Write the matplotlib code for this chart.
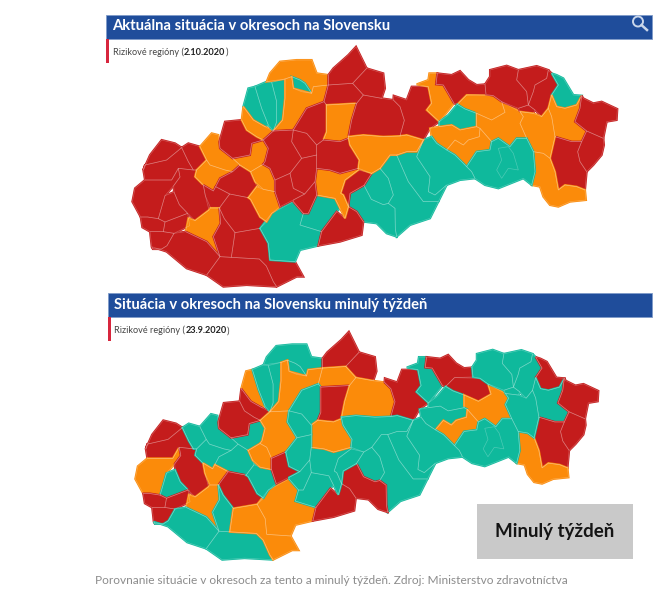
"""Two choropleth maps of Slovak districts, risk colours for 2.10.2020 and 23.9.2020."""

import matplotlib
matplotlib.use("Agg")
import matplotlib.pyplot as plt
from matplotlib.patches import Circle, Polygon, Rectangle
from matplotlib.transforms import Affine2D

plt.rcParams["font.family"] = ["Lato", "DejaVu Sans"]

RED = "#c41c1c"
ORANGE = "#fb8b0a"
TEAL = "#0fb99c"
BLUE = "#1f4d9b"

TITLE_NOW = "Aktuálna situácia v okresoch na Slovensku"
TITLE_LAST = "Situácia v okresoch na Slovensku minulý týždeň"
DATE_NOW = "2.10.2020"
DATE_LAST = "23.9.2020"
SUBTITLE = "Rizikové regióny"
BOX_LABEL = "Minulý týždeň"
CAPTION = "Porovnanie situácie v okresoch za tento a minulý týždeň. Zdroj: Ministerstvo zdravotníctva"

# district outlines (3x pixel units)
DISTRICT_SHAPES = [
    [(130, 495), (150, 450), (185, 405), (225, 415), (245, 428), (200, 465), (135, 480)],
    [(135, 525), (130, 495), (135, 480), (200, 465), (245, 428), (265, 470), (280, 495), (235, 490), (215, 525)],
    [(97, 590), (105, 550), (135, 525), (215, 525), (235, 490), (240, 516), (221, 542), (195, 572), (175, 641), (143, 636), (122, 636)],
    [(240, 516), (235, 490), (280, 495), (290, 495), (285, 515), (310, 540), (316, 572), (327, 615), (285, 647), (263, 625), (238, 599), (222, 561), (221, 542)],
    [(175, 641), (195, 572), (222, 561), (238, 599), (263, 625), (237, 635), (195, 651)],
    [(122, 636), (143, 636), (175, 641), (195, 651), (190, 680), (150, 680), (127, 667)],
    [(195, 651), (237, 635), (263, 625), (269, 662), (222, 685), (190, 680)],
    [(150, 680), (190, 680), (222, 685), (201, 722), (185, 732), (159, 732), (155, 725)],
    [(245, 428), (265, 415), (300, 425), (320, 465), (290, 495), (280, 495), (265, 470)],
    [(300, 425), (335, 385), (355, 390), (360, 430), (398, 460), (420, 480), (398, 500), (375, 495), (330, 480), (320, 465)],
    [(285, 515), (290, 495), (320, 465), (330, 480), (375, 495), (398, 500), (360, 520), (340, 558), (310, 540)],
    [(347, 545), (360, 520), (398, 500), (420, 480), (452, 500), (465, 530), (470, 545), (445, 578), (389, 567)],
    [(316, 572), (310, 540), (340, 558), (347, 545), (389, 567), (358, 609), (332, 609)],
    [(358, 609), (389, 567), (445, 578), (452, 583), (480, 636), (500, 650), (480, 670), (405, 683), (373, 641)],
    [(257, 680), (265, 640), (285, 647), (327, 615), (332, 609), (358, 609), (362, 655), (340, 695), (360, 755), (320, 710)],
    [(200, 740), (155, 725), (159, 732), (185, 732), (201, 722), (222, 685), (257, 680), (320, 710), (360, 755), (320, 810), (260, 790)],
    [(320, 810), (360, 755), (394, 757), (478, 762), (499, 783), (520, 830), (530, 845), (440, 840), (370, 845)],
    [(340, 695), (362, 655), (358, 609), (373, 641), (405, 683), (394, 757), (360, 755)],
    [(394, 757), (405, 683), (480, 670), (505, 715), (510, 765), (585, 770), (610, 815), (590, 815), (530, 845), (520, 830), (499, 783), (478, 762)],
    [(480, 670), (515, 625), (580, 590), (610, 625), (600, 660), (665, 680), (655, 722), (600, 735), (585, 770), (510, 765), (505, 715)],
    [(610, 625), (625, 625), (650, 570), (705, 580), (720, 610), (710, 620), (665, 680), (600, 660)],
    [(445, 578), (470, 545), (490, 553), (525, 560), (540, 605), (515, 625), (500, 650), (480, 636), (452, 583)],
    [(398, 460), (450, 450), (455, 415), (490, 405), (505, 430), (495, 470), (489, 478), (452, 500), (420, 480)],
    [(452, 500), (489, 478), (510, 490), (525, 525), (525, 560), (490, 553), (465, 530)],
    [(358, 410), (375, 350), (425, 345), (440, 375), (470, 395), (490, 405), (455, 415), (450, 450), (398, 460), (360, 430)],
    [(430, 305), (445, 250), (465, 245), (485, 310), (505, 360), (495, 365), (460, 345)],
    [(425, 345), (430, 305), (460, 345), (495, 365), (520, 378), (490, 405), (470, 395), (440, 375)],
    [(465, 245), (500, 230), (515, 232), (530, 290), (530, 350), (520, 378), (505, 360), (485, 310)],
    [(515, 232), (555, 222), (555, 280), (548, 345), (520, 378), (530, 350), (530, 290)],
    [(500, 230), (510, 205), (540, 170), (590, 165), (635, 165), (650, 205), (685, 210), (685, 240), (640, 245), (635, 265), (615, 235), (600, 225), (575, 215), (555, 222)],
    [(575, 215), (600, 225), (615, 235), (635, 265), (605, 260), (580, 250)],
    [(555, 222), (575, 215), (580, 250), (635, 265), (640, 245), (685, 240), (672, 290), (620, 310), (580, 375), (520, 378), (548, 345), (555, 280)],
    [(685, 210), (700, 190), (745, 150), (768, 125), (800, 190), (758, 235), (685, 240)],
    [(800, 190), (850, 205), (855, 250), (845, 280), (790, 270), (758, 235)],
    [(685, 240), (758, 235), (790, 270), (770, 295), (680, 300), (672, 290)],
    [(580, 375), (620, 310), (672, 290), (680, 300), (680, 380), (670, 405), (650, 420), (620, 385)],
    [(680, 300), (770, 295), (755, 345), (745, 400), (720, 410), (670, 405), (680, 380)],
    [(745, 395), (755, 345), (770, 295), (790, 270), (845, 280), (880, 285), (900, 305), (913, 346), (900, 393), (850, 395), (790, 390)],
    [(880, 285), (881, 272), (920, 285), (935, 245), (985, 245), (995, 295), (980, 315), (1018, 350), (990, 370), (970, 405), (920, 390), (900, 393), (913, 346), (900, 305)],
    [(950, 238), (985, 225), (988, 205), (1012, 205), (1008, 238), (1030, 240), (1062, 295), (1018, 350), (980, 315), (995, 295), (985, 245)],
    [(1012, 205), (1055, 210), (1080, 198), (1105, 225), (1130, 240), (1155, 238), (1158, 268), (1100, 270), (1072, 298), (1062, 295), (1030, 240), (1008, 238)],
    [(1072, 298), (1100, 270), (1180, 272), (1205, 290), (1215, 322), (1175, 345), (1130, 325), (1095, 312)],
    [(1018, 350), (1045, 330), (1072, 298), (1095, 312), (1130, 325), (1130, 365), (1080, 375), (1055, 360), (1018, 365)],
    [(1130, 325), (1175, 345), (1215, 322), (1205, 290), (1260, 320), (1270, 335), (1260, 355), (1280, 400), (1250, 400), (1230, 425), (1195, 400), (1175, 410), (1140, 370), (1130, 365)],
    [(1155, 238), (1170, 215), (1170, 195), (1220, 182), (1255, 195), (1250, 225), (1280, 260), (1285, 300), (1255, 310), (1205, 290), (1180, 272), (1158, 268)],
    [(1255, 195), (1310, 183), (1345, 195), (1340, 220), (1305, 240), (1300, 260), (1285, 300), (1280, 260), (1250, 225)],
    [(1340, 220), (1345, 195), (1355, 205), (1375, 240), (1355, 270), (1345, 310), (1325, 335), (1305, 315), (1285, 300), (1300, 260), (1305, 240)],
    [(1255, 310), (1285, 300), (1305, 315), (1300, 325), (1260, 320)],
    [(1355, 205), (1370, 210), (1390, 220), (1405, 245), (1420, 270), (1445, 272), (1430, 300), (1395, 310), (1370, 305), (1355, 270), (1375, 240)],
    [(1355, 270), (1370, 305), (1395, 310), (1430, 300), (1445, 272), (1440, 310), (1425, 350), (1460, 378), (1445, 410), (1415, 410), (1365, 395), (1355, 335), (1345, 310)],
    [(1445, 272), (1450, 280), (1480, 295), (1505, 290), (1552, 312), (1550, 345), (1520, 350), (1510, 400), (1460, 378), (1425, 350), (1440, 310)],
    [(1460, 378), (1510, 400), (1512, 420), (1505, 450), (1480, 480), (1460, 500), (1440, 470), (1433, 440), (1445, 410)],
    [(1365, 395), (1415, 410), (1445, 410), (1433, 440), (1440, 470), (1460, 500), (1455, 555), (1430, 545), (1395, 540), (1375, 555), (1365, 500), (1350, 460)],
    [(1300, 440), (1330, 445), (1350, 460), (1365, 500), (1375, 555), (1395, 540), (1430, 545), (1455, 555), (1458, 585), (1410, 590), (1375, 605), (1350, 600), (1330, 575), (1320, 545), (1295, 540), (1305, 500)],
    [(1260, 355), (1270, 335), (1260, 320), (1300, 325), (1325, 335), (1345, 310), (1355, 335), (1365, 395), (1350, 460), (1330, 445), (1300, 440), (1280, 400)],
    [(990, 370), (1018, 365), (1055, 360), (1080, 375), (1130, 365), (1140, 370), (1138, 395), (1105, 405), (1090, 420), (1065, 405), (1040, 435), (1010, 415), (995, 395)],
    [(1040, 435), (1065, 405), (1090, 420), (1105, 405), (1138, 395), (1140, 370), (1175, 410), (1170, 435), (1130, 440), (1100, 485), (1065, 450)],
    [(1100, 485), (1130, 440), (1170, 435), (1175, 410), (1195, 400), (1230, 425), (1250, 400), (1280, 400), (1300, 440), (1305, 500), (1295, 540), (1270, 520), (1245, 530), (1195, 550), (1155, 540), (1125, 520), (1115, 500)],
    [(1195, 430), (1225, 425), (1240, 445), (1255, 495), (1225, 490), (1205, 520), (1190, 495), (1205, 465)],
    [(995, 395), (1010, 415), (1040, 435), (1065, 450), (1100, 485), (1115, 500), (1125, 520), (1080, 525), (1040, 540), (1005, 570), (985, 560), (990, 515), (950, 455), (970, 405)],
    [(890, 450), (920, 440), (950, 440), (970, 405), (950, 455), (990, 515), (985, 560), (1005, 570), (1040, 540), (1015, 590), (970, 590), (925, 530)],
    [(840, 490), (870, 450), (890, 450), (925, 530), (970, 590), (1015, 590), (990, 640), (930, 660), (890, 695), (886, 672), (885, 610), (865, 595), (880, 570), (865, 520)],
    [(792, 541), (815, 505), (840, 490), (865, 520), (880, 570), (865, 595), (850, 599), (814, 583)],
    [(750, 565), (792, 541), (814, 583), (850, 599), (865, 595), (885, 610), (886, 672), (890, 695), (860, 685), (830, 655), (790, 650), (770, 620), (745, 605)],
    [(665, 680), (710, 620), (735, 640), (745, 605), (770, 620), (790, 650), (785, 690), (720, 710), (655, 722)],
    [(722, 565), (735, 525), (775, 495), (815, 505), (792, 541), (750, 565), (745, 605), (730, 570)],
    [(650, 490), (690, 495), (720, 505), (775, 490), (775, 495), (735, 525), (722, 565), (730, 570), (745, 605), (735, 640), (720, 610), (705, 580), (650, 570), (645, 530)],
    [(650, 420), (670, 405), (720, 410), (745, 400), (750, 420), (778, 465), (775, 490), (720, 505), (690, 495), (650, 490), (650, 450)],
    [(745, 395), (790, 390), (850, 395), (900, 393), (920, 390), (970, 405), (950, 440), (920, 440), (890, 450), (870, 450), (840, 490), (815, 505), (775, 490), (778, 465), (750, 420)],
    [(490, 405), (520, 378), (580, 375), (575, 410), (605, 460), (570, 505), (525, 525), (510, 490), (489, 478), (495, 470), (505, 430)],
    [(580, 375), (620, 385), (650, 420), (650, 450), (605, 460), (575, 410)],
    [(525, 525), (570, 505), (580, 550), (614, 567), (580, 585), (540, 605), (525, 560)],
    [(570, 505), (605, 460), (650, 450), (650, 490), (645, 530), (614, 567), (580, 550)],
    [(580, 585), (614, 567), (645, 530), (650, 570), (625, 625), (610, 625), (580, 590)],
]

# one colour per district, same order as the shapes
COLORS_NOW = [
    "R", "R", "R", "R", "R", "R", "R", "R", "R", "O",
    "O", "R", "R", "R", "O", "R", "R", "R", "R", "T",
    "T", "O", "O", "O", "R", "T", "O", "T", "T", "O",
    "T", "O", "R", "R", "R", "R", "O", "R", "R", "O",
    "R", "O", "T", "O", "R", "R", "R", "R", "T", "O",
    "R", "R", "R", "O", "O", "O", "O", "T", "T", "T",
    "T", "T", "T", "T", "R", "R", "O", "R", "O", "R",
    "R", "R", "R", "R",
]
COLORS_LAST = [
    "R", "R", "O", "R", "T", "R", "R", "R", "T", "T",
    "T", "T", "O", "R", "O", "T", "T", "T", "O", "O",
    "T", "T", "T", "O", "R", "O", "R", "T", "T", "T",
    "T", "O", "R", "R", "O", "T", "R", "O", "R", "T",
    "R", "R", "T", "O", "T", "T", "T", "T", "R", "T",
    "R", "R", "R", "O", "T", "T", "O", "T", "T", "T",
    "T", "T", "T", "R", "R", "T", "T", "O", "T", "O",
    "T", "R", "T", "T",
]

MAP_NOW_SCALE = (1 / 3, 1 / 3)
MAP_NOW_OFFSET = (100, 5)
MAP_LAST_SCALE = (0.3183, 0.3167)
MAP_LAST_OFFSET = (104.4, 292.1)


def draw_map(ax, codes, scale, offset):
    palette = {"R": RED, "O": ORANGE, "T": TEAL}
    tf = Affine2D().scale(*scale).translate(*offset) + ax.transData
    for shape, code in zip(DISTRICT_SHAPES, codes):
        # own-colour edge closes the small gaps between traced shapes
        ax.add_patch(Polygon(shape, closed=True, fc=palette[code], ec=palette[code], lw=1.5, transform=tf, zorder=2))
    for shape in DISTRICT_SHAPES:
        ax.add_patch(Polygon(shape, closed=True, fc="none", ec=(1, 1, 1, 0.25), lw=0.5, transform=tf, zorder=3))


def draw_header(ax, title, date, x0, y0):
    ax.add_patch(Rectangle((x0, y0), 652 - x0, 24, fc=BLUE, ec="#7f9bc9", lw=0.6, zorder=4))
    ax.add_patch(Rectangle((x0, y0 + 24), 3, 24, fc="#d7263d", ec="none", zorder=4))
    ax.text(x0 + 6, y0 + 11.5, title, color="white", fontsize=10.6, fontweight="bold", va="center", ha="left", zorder=5)
    sub = ax.text(x0 + 7, y0 + 37.5, SUBTITLE + " (", color="#444444", fontsize=6.6, va="center", ha="left", zorder=5)
    bold = ax.annotate(date, xy=(1, 0), xycoords=sub, color="#222222", fontsize=6.6, fontweight="bold", va="bottom", ha="left", zorder=5)
    ax.annotate(")", xy=(1, 0), xycoords=bold, color="#444444", fontsize=6.6, va="bottom", ha="left", zorder=5)


fig = plt.figure(figsize=(6.61, 6.0), dpi=100)
ax = fig.add_axes([0, 0, 1, 1])
ax.set_xlim(0, 661)
ax.set_ylim(600, 0)
ax.axis("off")

draw_header(ax, TITLE_NOW, DATE_NOW, 106, 14.5)
draw_header(ax, TITLE_LAST, DATE_LAST, 107.5, 293)

draw_map(ax, COLORS_NOW, MAP_NOW_SCALE, MAP_NOW_OFFSET)
draw_map(ax, COLORS_LAST, MAP_LAST_SCALE, MAP_LAST_OFFSET)

# search icon
ax.add_patch(Circle((638, 21.5), 5, fc="none", ec="#c9d6ea", lw=1.4, zorder=6))
ax.plot([641.5, 647], [25, 30], color="#c9d6ea", lw=1.8, zorder=6)

ax.add_patch(Rectangle((477, 504), 156, 55, fc="#c9c9c9", ec="none", zorder=4))
ax.text(555, 532, BOX_LABEL, color="#141414", fontsize=13.5, fontweight="bold", ha="center", va="center", zorder=5)

ax.text(331, 581, CAPTION, color="#8c8c8c", fontsize=8.6, ha="center", va="center")

fig.savefig("out.png", dpi=100)
